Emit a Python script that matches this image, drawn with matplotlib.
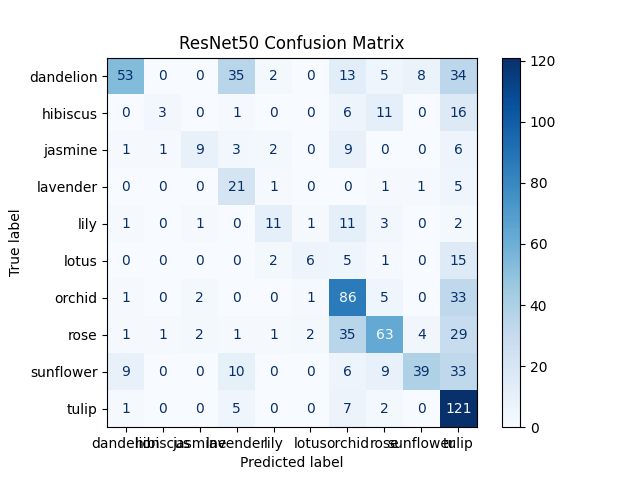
import matplotlib
matplotlib.use("Agg")
import matplotlib.pyplot as plt
import numpy as np

labels = ["dandelion","hibiscus","jasmine","lavender","lily","lotus","orchid","rose","sunflower","tulip"]
cm = np.array([
[53,0,0,35,2,0,13,5,8,34],
[0,3,0,1,0,0,6,11,0,16],
[1,1,9,3,2,0,9,0,0,6],
[0,0,0,21,1,0,0,1,1,5],
[1,0,1,0,11,1,11,3,0,2],
[0,0,0,0,2,6,5,1,0,15],
[1,0,2,0,0,1,86,5,0,33],
[1,1,2,1,1,2,35,63,4,29],
[9,0,0,10,0,0,6,9,39,33],
[1,0,0,5,0,0,7,2,0,121],
])

fig, ax = plt.subplots(figsize=(6.4,4.8), dpi=100)
cmap = plt.cm.Blues
im = ax.imshow(cm, interpolation="nearest", cmap=cmap)
thresh = (cm.max()+cm.min())/2
for i in range(cm.shape[0]):
    for j in range(cm.shape[1]):
        c = cmap(1.0) if cm[i,j] < thresh else cmap(0.0)
        ax.text(j, i, str(cm[i,j]), ha="center", va="center", color=c)
fig.colorbar(im, ax=ax)
ax.set(xticks=np.arange(10), yticks=np.arange(10), xticklabels=labels, yticklabels=labels,
       xlabel="Predicted label", ylabel="True label")
ax.set_ylim(9.5, -0.5)
ax.set_title("ResNet50 Confusion Matrix")
fig.savefig("out.png")
